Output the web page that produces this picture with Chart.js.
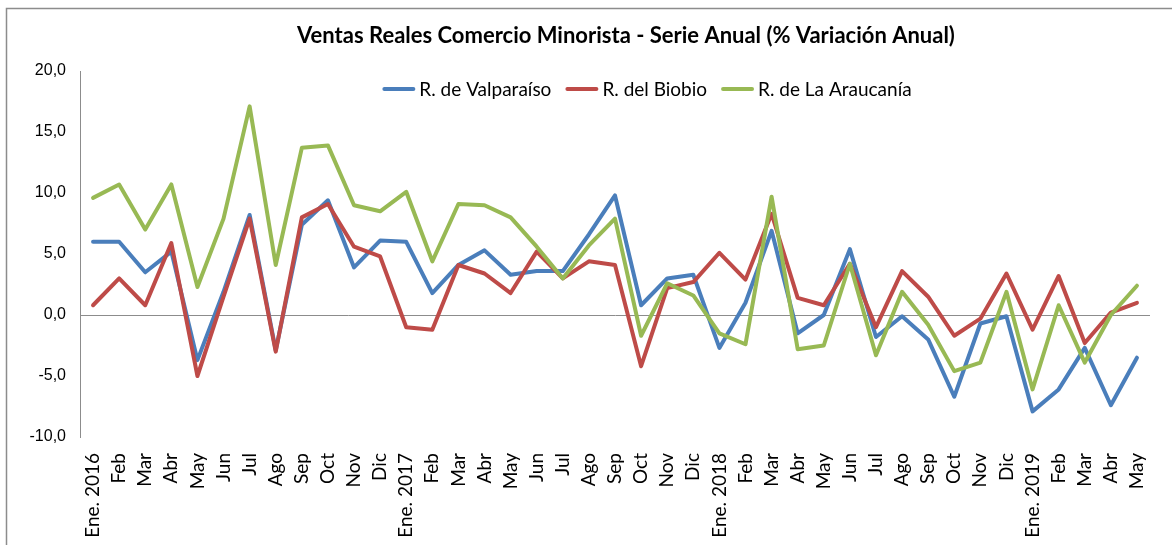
<!DOCTYPE html>
<html>
<head>
<meta charset="utf-8">
<script src="https://cdn.jsdelivr.net/npm/chart.js@4.4.1/dist/chart.umd.min.js"></script>
<style>
  html, body { margin: 0; padding: 0; background: #ffffff; }
  #wrap { width: 1172px; height: 545px; position: relative; }
</style>
</head>
<body>
<div id="wrap"><canvas id="c" width="1172" height="545"></canvas></div>
<script>
const titleText = "Ventas Reales Comercio Minorista - Serie Anual (% Variación Anual)";
const categories = [
  "Ene. 2016","Feb","Mar","Abr","May","Jun","Jul","Ago","Sep","Oct","Nov","Dic",
  "Ene. 2017","Feb","Mar","Abr","May","Jun","Jul","Ago","Sep","Oct","Nov","Dic",
  "Ene. 2018","Feb","Mar","Abr","May","Jun","Jul","Ago","Sep","Oct","Nov","Dic",
  "Ene. 2019","Feb","Mar","Abr","May"
];
const seriesNames = ["R. de Valparaíso", "R. del Biobio", "R. de La Araucanía"];
const valparaiso = [
  6.0, 6.0, 3.5, 5.2, -3.7, 1.9, 8.2, -2.9, 7.4, 9.4, 3.9, 6.1,
  6.0, 1.8, 4.1, 5.3, 3.3, 3.6, 3.6, 6.6, 9.8, 0.8, 3.0, 3.3,
  -2.7, 1.0, 6.9, -1.5, 0.0, 5.4, -1.8, -0.1, -2.0, -6.7, -0.7, -0.1,
  -7.9, -6.1, -2.7, -7.4, -3.5
];
const biobio = [
  0.8, 3.0, 0.8, 5.9, -5.0, 1.5, 7.9, -3.0, 8.0, 9.1, 5.6, 4.8,
  -1.0, -1.2, 4.1, 3.4, 1.8, 5.2, 3.0, 4.4, 4.1, -4.2, 2.2, 2.7,
  5.1, 2.9, 8.3, 1.4, 0.8, 4.2, -1.0, 3.6, 1.5, -1.7, -0.3, 3.4,
  -1.2, 3.2, -2.3, 0.2, 1.0
];
const araucania = [
  9.6, 10.7, 7.0, 10.7, 2.3, 7.9, 17.1, 4.1, 13.7, 13.9, 9.0, 8.5,
  10.1, 4.4, 9.1, 9.0, 8.0, 5.6, 3.0, 5.7, 7.9, -1.7, 2.6, 1.6,
  -1.5, -2.4, 9.7, -2.8, -2.5, 4.2, -3.3, 1.9, -0.8, -4.6, -3.9, 1.9,
  -6.1, 0.8, -3.9, 0.0, 2.4
];
const yTicks = { min: -10, max: 20, step: 5 };
const seriesColors = ["#4A7EBB", "#BE4B48", "#98B954"];

const frameAndTitle = {
  id: 'frameAndTitle',
  beforeDraw(chart) {
    const ctx = chart.ctx;
    ctx.save();
    ctx.fillStyle = '#ffffff';
    ctx.fillRect(0, 0, chart.width, chart.height);
    ctx.strokeStyle = '#8c8c8c';
    ctx.lineWidth = 1.5;
    ctx.beginPath();
    ctx.moveTo(6.5, chart.height);
    ctx.lineTo(6.5, 8.5);
    ctx.lineTo(chart.width, 8.5);
    ctx.stroke();
    ctx.restore();
  },
  afterDraw(chart) {
    const ctx = chart.ctx;
    ctx.save();
    ctx.fillStyle = '#000000';
    ctx.font = 'bold 22px Lato';
    ctx.textAlign = 'center';
    ctx.textBaseline = 'middle';
    ctx.fillText(titleText, 626, 36);
    // legend inside plot area
    ctx.font = '19px Lato';
    ctx.textBaseline = 'middle';
    ctx.textAlign = 'left';
    const lineLen = 33, gapLT = 4, gapItems = 14;
    const items = chart.data.datasets.map(d => ({ label: d.label, color: d.borderColor, w: ctx.measureText(d.label).width }));
    const total = items.reduce((s, it) => s + lineLen + gapLT + it.w, 0) + gapItems * (items.length - 1);
    let x = 647 - total / 2;
    const y = chart.chartArea.top + 18;
    items.forEach(it => {
      ctx.strokeStyle = it.color;
      ctx.lineWidth = 4;
      ctx.lineCap = 'round';
      ctx.beginPath();
      ctx.moveTo(x + 2, y);
      ctx.lineTo(x + lineLen - 2, y);
      ctx.stroke();
      x += lineLen + gapLT;
      ctx.fillStyle = '#000';
      ctx.fillText(it.label, x, y + 1);
      x += it.w + gapItems;
    });
    ctx.restore();
  }
};

new Chart(document.getElementById('c'), {
  type: 'line',
  data: {
    labels: categories,
    datasets: [
      { label: seriesNames[0], data: valparaiso, borderColor: seriesColors[0], order: 2 },
      { label: seriesNames[1], data: biobio, borderColor: seriesColors[1], order: 1 },
      { label: seriesNames[2], data: araucania, borderColor: seriesColors[2], order: 0 }
    ].map(d => Object.assign(d, {
      borderWidth: 4, pointRadius: 0, tension: 0, fill: false,
      borderJoinStyle: 'round', borderCapStyle: 'round', backgroundColor: d.borderColor
    }))
  },
  options: {
    responsive: false,
    animation: false,
    devicePixelRatio: 1,
    layout: { padding: { top: 71, left: 0, right: 22, bottom: 0 } },
    plugins: {
      legend: { display: false },
      title: { display: false },
      tooltip: { enabled: false }
    },
    scales: {
      x: {
        offset: true,
        grid: { display: false },
        border: { display: false },
        ticks: {
          autoSkip: false, maxRotation: 90, minRotation: 90,
          color: '#000', padding: 8,
          font: { family: 'Lato', size: 19 }
        },
        afterFit(scale) { scale.height = 108; }
      },
      y: {
        min: yTicks.min, max: yTicks.max,
        grid: {
          drawTicks: false,
          color: (c) => (c.tick && c.tick.value === 0) ? '#8c8c8c' : 'rgba(0,0,0,0)',
          lineWidth: 1
        },
        border: { display: true, color: '#8c8c8c', width: 1 },
        ticks: {
          stepSize: yTicks.step, color: '#000', padding: 14,
          font: { family: 'Liberation Sans', size: 16 },
          callback: (v) => Number(v).toFixed(1).replace('.', ',')
        },
        afterFit(scale) { scale.width = 80; }
      }
    }
  },
  plugins: [frameAndTitle]
});
</script>
</body>
</html>
